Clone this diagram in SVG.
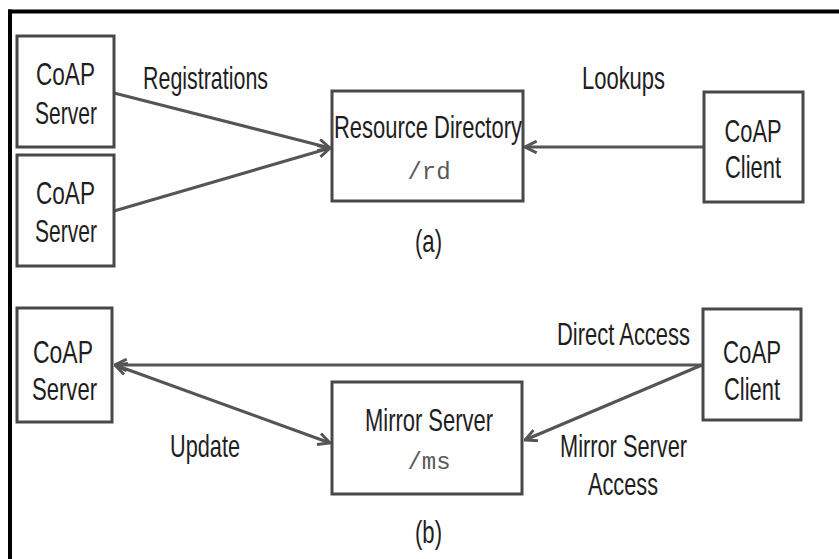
<svg xmlns="http://www.w3.org/2000/svg" width="839" height="559" viewBox="0 0 839 559">
  <style>
    .box { fill: #ffffff; stroke: #484848; stroke-width: 3; }
    .lbl { font-family: "Liberation Sans", Arial, sans-serif; font-size: 31px; fill: #1e1e1e; text-anchor: middle; }
    .path { font-family: "Liberation Mono", "Courier New", monospace; font-size: 24px; fill: #5a5a5a; text-anchor: middle; }
    .conn { stroke: #555555; stroke-width: 3; fill: none; }
    .frame { stroke: #000000; stroke-width: 4; fill: none; }
  </style>
  <defs>
    <marker id="chev" viewBox="0 0 12 12" refX="11" refY="6" markerWidth="14" markerHeight="14" markerUnits="userSpaceOnUse" orient="auto-start-reverse">
      <path d="M1,1 L11,6 L1,11" fill="none" stroke="#555555" stroke-width="2.5"/>
    </marker>
  </defs>

  <rect width="839" height="559" fill="#ffffff"/>

  <!-- frame edges -->
  <g id="frame">
    <line class="frame" x1="8" y1="11.5" x2="839" y2="11.5"/>
    <line class="frame" x1="10" y1="9.5" x2="10" y2="559"/>
  </g>

  <!-- connectors -->
  <g id="connectors">
    <line class="conn" x1="114" y1="93" x2="330" y2="148" marker-end="url(#chev)"/>
    <line class="conn" x1="114" y1="211" x2="330" y2="148" marker-end="url(#chev)"/>
    <line class="conn" x1="703" y1="147" x2="525" y2="147" marker-end="url(#chev)"/>
    <line class="conn" x1="702" y1="365" x2="115" y2="365" marker-end="url(#chev)"/>
    <line class="conn" x1="115" y1="365" x2="330" y2="443" marker-start="url(#chev)" marker-end="url(#chev)"/>
    <line class="conn" x1="702" y1="365" x2="525" y2="440" marker-end="url(#chev)"/>
  </g>

  <!-- connector labels (condensed sans: x scaled to 0.72) -->
  <g id="connector-labels">
    <text class="lbl" transform="translate(205.5 89) scale(0.72 1)" textLength="173.6" lengthAdjust="spacingAndGlyphs">Registrations</text>
    <text class="lbl" transform="translate(623.5 89) scale(0.72 1)" textLength="115.3" lengthAdjust="spacingAndGlyphs">Lookups</text>
    <text class="lbl" transform="translate(623.5 345) scale(0.72 1)" textLength="184.7" lengthAdjust="spacingAndGlyphs">Direct Access</text>
    <text class="lbl" transform="translate(205 457) scale(0.72 1)" textLength="97.2" lengthAdjust="spacingAndGlyphs">Update</text>
    <text class="lbl" transform="translate(623.5 457) scale(0.72 1)" textLength="176.4" lengthAdjust="spacingAndGlyphs">Mirror Server</text>
    <text class="lbl" transform="translate(623 495) scale(0.72 1)" textLength="97.2" lengthAdjust="spacingAndGlyphs">Access</text>
  </g>

  <!-- part (a): resource directory -->
  <g id="server-a1">
    <rect class="box" x="17" y="36" width="97" height="111"/>
    <text class="lbl" transform="translate(65.5 85) scale(0.72 1)" textLength="81.9" lengthAdjust="spacingAndGlyphs">CoAP</text>
    <text class="lbl" transform="translate(66 124) scale(0.72 1)" textLength="86.1" lengthAdjust="spacingAndGlyphs">Server</text>
  </g>
  <g id="server-a2">
    <rect class="box" x="17" y="155" width="97" height="111"/>
    <text class="lbl" transform="translate(65.5 204) scale(0.72 1)" textLength="81.9" lengthAdjust="spacingAndGlyphs">CoAP</text>
    <text class="lbl" transform="translate(66 242) scale(0.72 1)" textLength="86.1" lengthAdjust="spacingAndGlyphs">Server</text>
  </g>
  <g id="resource-directory">
    <rect class="box" x="332" y="91" width="191" height="110"/>
    <text class="lbl" transform="translate(428 138) scale(0.72 1)" textLength="261.1" lengthAdjust="spacingAndGlyphs">Resource Directory</text>
    <text class="path" x="429" y="179">/rd</text>
  </g>
  <g id="client-a">
    <rect class="box" x="704" y="92" width="99" height="110"/>
    <text class="lbl" transform="translate(753 142) scale(0.72 1)" textLength="79.2" lengthAdjust="spacingAndGlyphs">CoAP</text>
    <text class="lbl" transform="translate(753 178) scale(0.72 1)" textLength="77.8" lengthAdjust="spacingAndGlyphs">Client</text>
  </g>
  <text id="caption-a" class="lbl" transform="translate(428.5 252) scale(0.72 1)" textLength="37.5" lengthAdjust="spacingAndGlyphs">(a)</text>

  <!-- part (b): mirror server -->
  <g id="server-b">
    <rect class="box" x="17" y="308" width="95" height="114"/>
    <text class="lbl" transform="translate(63 363) scale(0.72 1)" textLength="83.3" lengthAdjust="spacingAndGlyphs">CoAP</text>
    <text class="lbl" transform="translate(64.5 400) scale(0.72 1)" textLength="90.3" lengthAdjust="spacingAndGlyphs">Server</text>
  </g>
  <g id="mirror-server">
    <rect class="box" x="332" y="382" width="190" height="112"/>
    <text class="lbl" transform="translate(429 431) scale(0.72 1)" textLength="177.8" lengthAdjust="spacingAndGlyphs">Mirror Server</text>
    <text class="path" x="429" y="469">/ms</text>
  </g>
  <g id="client-b">
    <rect class="box" x="703" y="309" width="98" height="111"/>
    <text class="lbl" transform="translate(752 363) scale(0.72 1)" textLength="80.6" lengthAdjust="spacingAndGlyphs">CoAP</text>
    <text class="lbl" transform="translate(752 400) scale(0.72 1)" textLength="77.8" lengthAdjust="spacingAndGlyphs">Client</text>
  </g>
  <text id="caption-b" class="lbl" transform="translate(428.5 543) scale(0.72 1)" textLength="37.5" lengthAdjust="spacingAndGlyphs">(b)</text>
</svg>
